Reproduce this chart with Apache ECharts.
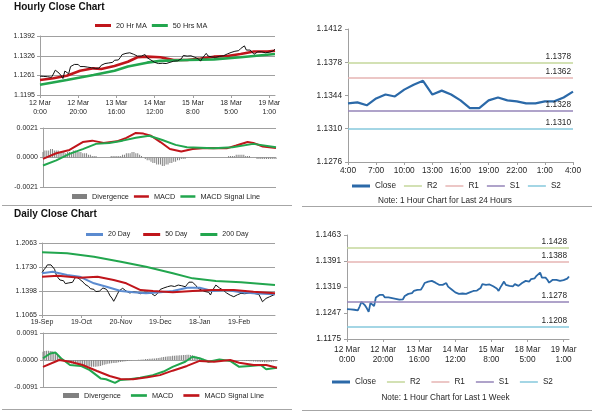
<!DOCTYPE html>
<html><head><meta charset="utf-8">
<script src="https://cdn.jsdelivr.net/npm/echarts@6/dist/echarts.min.js"></script>
<style>html,body{margin:0;padding:0;background:#fff}#c{width:600px;height:413px}</style>
</head><body><div id="c"></div>
<script>
// ---------------- DATA ----------------
const hourlyDays = ['12 Mar','13 Mar','14 Mar','15 Mar','18 Mar','19 Mar'];
const hourlyLastHour = [23,23,23,22,23,4];

const hourlyClose = [
 1.1258,1.1260,1.1257,1.1259,1.1256,1.1252,1.1254,1.1265,1.1278,1.1274,
 1.1268,1.1260,1.1250,1.1275,1.1270,1.1266,1.1290,1.1295,1.1297,1.1294,
 1.1297,1.1290,1.1289,1.1290,1.1289,1.1288,1.1289,1.1286,1.1285,1.1284,
 1.1286,1.1285,1.1294,1.1292,1.1300,1.1305,1.1302,1.1308,1.1304,1.1311,
 1.1306,1.1312,1.1320,1.1330,1.1329,1.1334,1.1338,1.1336,1.1333,1.1331,
 1.1326,1.1325,1.1324,1.1325,1.1322,1.1330,1.1320,1.1316,1.1312,1.1308,
 1.1304,1.1302,1.1300,1.1303,1.1301,1.1302,1.1300,1.1303,1.1304,1.1305,
 1.1308,1.1310,1.1309,1.1312,1.1316,1.1327,1.1324,1.1325,1.1323,1.1326,
 1.1324,1.1321,1.1318,1.1315,1.1308,1.1318,1.1326,1.1334,1.1325,1.1324,
 1.1322,1.1323,1.1321,1.1327,1.1324,1.1322,1.1326,1.1330,1.1332,1.1336,
 1.1337,1.1334,1.1341,1.1345,1.1343,1.1350,1.1355,1.1359,1.1345,1.1349,
 1.1345,1.1339,1.1331,1.1331,1.1339,1.1342,1.1339,1.1338,1.1336,1.1336,
 1.1338,1.1338,1.1342,1.1348];

const hourlyMA20 = [[0,1.1245],[7,1.1251],[14,1.1259],[21,1.1276],[28,1.1284],[32,1.1282],[39,1.1292],[46,1.1306],[51,1.1321],[56,1.1323],[63,1.1321],[70,1.1312],[77,1.1312],[84,1.1317],[91,1.1323],[98,1.1325],[105,1.1332],[112,1.1340],[119,1.1340],[123,1.1343]];
const hourlyMA50 = [[0,1.1229],[14,1.1245],[28,1.1262],[39,1.1276],[46,1.1290],[56,1.1303],[63,1.1309],[77,1.1312],[91,1.1314],[105,1.1321],[123,1.1332]];

const hourlyMACD = [[0,-0.0001],[1,0.0000],[7,0.0003],[14,0.00054],[21,0.0011],[26,0.0012],[32,0.00104],[39,0.00115],[44,0.0014],[49,0.00175],[53,0.0017],[57,0.00155],[62,0.0011],[67,0.0006],[73,0.00043],[79,0.0006],[86,0.00068],[97,0.00065],[102,0.00085],[108,0.0011],[111,0.00104],[116,0.00078],[123,0.00068]];
const hourlySignal = [[0,-0.00057],[7,-0.0002],[14,0.00026],[21,0.0006],[28,0.00097],[35,0.00104],[42,0.0012],[49,0.0014],[56,0.00155],[63,0.00125],[70,0.0009],[76,0.00073],[90,0.00065],[100,0.00073],[111,0.00097],[123,0.00073]];
const hourlyDiv = [
 0.0004,0.0005,0.0005,0.0005,0.0006,0.0006,0.0005,0.0005,0.0005,0.0004,
 0.0004,0.0004,0.0003,0.0004,0.0004,0.0004,0.0005,0.0005,0.0004,0.0004,
 0.0004,0.0003,0.0003,0.0003,0.0002,0.0002,0.0001,0.0001,0.0001,0.0000,
 0.0000,0.0000,0.0000,0.0000,0.0000,0.0000,0.0001,0.0001,0.0001,0.0001,
 0.0001,0.0001,0.0002,0.0002,0.0003,0.0003,0.0003,0.0004,0.0004,0.0003,
 0.0003,0.0002,0.0001,0.0000,-0.0001,-0.0002,-0.0002,-0.0003,-0.0004,-0.0004,
 -0.0005,-0.0005,-0.0005,-0.0006,-0.0006,-0.0005,-0.0005,-0.0004,-0.0004,-0.0003,
 -0.0003,-0.0002,-0.0002,-0.0001,-0.0001,-0.0001,0.0000,0.0000,0.0000,0.0000,
 0.0000,0.0000,0.0000,0.0000,0.0000,0.0000,0.0000,0.0000,0.0000,0.0000,
 0.0000,0.0000,0.0000,0.0000,0.0000,0.0000,0.0000,0.0000,0.0001,0.0001,
 0.0001,0.0001,0.0002,0.0002,0.0002,0.0002,0.0002,0.0001,0.0001,0.0001,
 0.0000,0.0000,0.0000,-0.0001,-0.0001,-0.0001,-0.0001,-0.0001,-0.0001,-0.0001,
 -0.0001,-0.0001,-0.0001,-0.0001];

const dailyTickLabels = ['19-Sep','19-Oct','20-Nov','19-Dec','18-Jan','19-Feb'];
const dailyLabelEvery = 22;
const dailyClose = [
 1.1647,1.1690,1.1720,1.1760,1.1781,1.1760,1.1734,1.1700,1.1619,1.1580,
 1.1550,1.1526,1.1540,1.1500,1.1490,1.1510,1.1530,1.1518,1.1560,1.1596,
 1.1580,1.1560,1.1550,1.1520,1.1490,1.1480,1.1460,1.1430,1.1411,1.1420,
 1.1390,1.1379,1.1395,1.1411,1.1440,1.1457,1.1420,1.1379,1.1330,1.1300,
 1.1255,1.1300,1.1351,1.1400,1.1420,1.1435,1.1410,1.1397,1.1380,1.1370,
 1.1365,1.1385,1.1360,1.1379,1.1370,1.1360,1.1351,1.1380,1.1397,1.1380,
 1.1370,1.1365,1.1350,1.1330,1.1318,1.1380,1.1420,1.1435,1.1440,1.1430,
 1.1457,1.1440,1.1470,1.1480,1.1460,1.1470,1.1480,1.1490,1.1470,1.1450,
 1.1457,1.1490,1.1520,1.1536,1.1520,1.1504,1.1470,1.1435,1.1420,1.1411,
 1.1400,1.1390,1.1411,1.1380,1.1342,1.1400,1.1440,1.1480,1.1457,1.1440,
 1.1420,1.1411,1.1390,1.1370,1.1365,1.1340,1.1330,1.1318,1.1330,1.1345,
 1.1351,1.1365,1.1379,1.1360,1.1370,1.1365,1.1355,1.1370,1.1379,1.1360,
 1.1355,1.1351,1.1300,1.1249,1.1270,1.1295,1.1310,1.1318,1.1330,1.1340,
 1.1351];
const daily20 = [[0,1.1643],[6,1.1665],[14,1.1619],[21,1.1596],[29,1.1504],[36,1.1457],[44,1.1397],[51,1.1379],[58,1.1365],[66,1.1379],[73,1.1397],[81,1.1443],[88,1.1443],[95,1.1397],[103,1.1411],[111,1.1379],[118,1.1365],[130,1.1351]];
const daily50 = [[0,1.1596],[9,1.1610],[21,1.1582],[31,1.1596],[40,1.1550],[47,1.1504],[55,1.1411],[62,1.1397],[73,1.1379],[84,1.1397],[95,1.1411],[107,1.1411],[118,1.1388],[130,1.1365]];
const daily200 = [[0,1.1934],[14,1.1920],[29,1.1873],[44,1.1804],[58,1.1734],[73,1.1643],[84,1.1573],[97,1.1536],[111,1.1518],[130,1.1480]];
const dailyMACD = [[0,0.0006],[4,0.0022],[7,0.0025],[10,0.0006],[15,-0.0017],[21,-0.0020],[26,-0.0034],[32,-0.0062],[35,-0.0065],[40,-0.0077],[43,-0.0067],[48,-0.0065],[54,-0.0060],[61,-0.0051],[67,-0.0039],[72,-0.0023],[79,-0.0006],[83,0.0011],[87,0.0006],[92,-0.0006],[98,0.0002],[104,-0.0003],[109,-0.0023],[115,-0.0020],[121,-0.0017],[124,-0.0031],[130,-0.0026]];
const dailySignal = [[0,-0.0023],[9,0.0000],[15,-0.0006],[22,-0.0017],[30,-0.0037],[37,-0.0054],[43,-0.0064],[50,-0.0065],[58,-0.0058],[65,-0.0051],[72,-0.0036],[80,-0.0020],[87,-0.0003],[95,-0.0006],[104,0.0000],[109,-0.0009],[117,-0.0017],[124,-0.0017],[130,-0.0026]];
const dailyDiv = [
 0.0028,0.0030,0.0031,0.0031,0.0030,0.0030,0.0028,0.0025,0.0020,0.0014,0.0008,0.0003,-0.0002,
 -0.0006,-0.0009,-0.0011,-0.0012,-0.0013,-0.0014,-0.0015,-0.0016,-0.0017,-0.0018,-0.0019,-0.0020,-0.0021,
 -0.0022,-0.0023,-0.0023,-0.0023,-0.0022,-0.0021,-0.0020,-0.0018,-0.0016,-0.0014,-0.0013,-0.0012,-0.0011,
 -0.0010,-0.0010,-0.0009,-0.0008,-0.0007,-0.0006,-0.0005,-0.0004,-0.0003,-0.0002,-0.0001,0,0,
 0,0.0001,0.0001,0.0002,0.0002,0.0003,0.0003,0.0004,0.0004,0.0005,0.0005,0.0006,0.0007,
 0.0008,0.0009,0.0010,0.0011,0.0012,0.0013,0.0013,0.0014,0.0014,0.0015,0.0015,0.0016,0.0016,
 0.0017,0.0017,0.0018,0.0018,0.0017,0.0016,0.0014,0.0012,0.0010,0.0008,0.0006,0.0004,0.0002,
 0.0001,0,0,0,0,0,0,0,0,0,0,0,0,
 0,0,0,0,0,0,-0.0001,-0.0002,-0.0002,-0.0003,-0.0003,-0.0004,-0.0004,
 -0.0005,-0.0005,-0.0006,-0.0006,-0.0007,-0.0007,-0.0008,-0.0008,-0.0008,-0.0007,-0.0006,-0.0005,-0.0004,-0.0003];

const levelNames = ['R2','R1','S1','S2'];
const dayLevels  = [1.1378, 1.1362, 1.1328, 1.1310];
const weekLevels = [1.1428, 1.1388, 1.1278, 1.1208];

const hourlyPriceTicks = [1.1195,1.1261,1.1326,1.1392];
const hourlyMacdTicks  = [-0.0021,0,0.0021];
const dayPriceTicks    = [1.1276,1.1310,1.1344,1.1378,1.1412];
const dailyPriceTicks  = [1.1065,1.1398,1.1730,1.2063];
const dailyMacdTicks   = [-0.0091,0,0.0091];
const weekPriceTicks   = [1.1175,1.1247,1.1319,1.1391,1.1463];

// ---------------- BUILD ----------------
const hourlyCats = [];
hourlyDays.forEach((d,i)=>{ for(let h=0;h<=hourlyLastHour[i];h++) hourlyCats.push(d+'\n'+h+':00'); });
const dayCats = hourlyCats.slice(-25);
const dayClose = hourlyClose.slice(-25);
const dailyCats = dailyClose.map((_,i)=>'d'+i);

const FONT = "'Liberation Sans', Arial, sans-serif";
const TXT = '#262626';
const AXC = '#a0a0a0';
const RED = '#c0151b', GREEN = '#22a64e', BLUE20 = '#5b8bd0', CLOSE = '#2b69a8', GREY = '#808080';
const LVC = ['#c4d79b', '#e6b4b3', '#9585b8', '#86c8dc'];

const chart = echarts.init(document.getElementById('c'), null, {renderer:'canvas'});

const grids = [
  {left:40, top:36, width:235, height:59},
  {left:43, top:128, width:233, height:59},
  {left:348, top:29, width:225, height:133},
  {left:42, top:243, width:233, height:72},
  {left:43, top:333, width:234, height:54},
  {left:347, top:235, width:222, height:104}
];

function yAx(gi, ticks, fs, split, margin){
  return {type:'value', gridIndex:gi, min:ticks[0], max:ticks[ticks.length-1],
    axisLine:{show:true, lineStyle:{color:AXC}},
    axisTick:{show:true, length:3, customValues:ticks, lineStyle:{color:AXC}},
    axisLabel:{customValues:ticks, formatter:v=>v.toFixed(4), fontSize:fs, color:TXT, fontFamily:FONT, margin:margin},
    splitLine:{show:split, lineStyle:{color:AXC, width:1}}};
}
function xAx(gi, cats, o){
  return Object.assign({type:'category', gridIndex:gi, data:cats, boundaryGap:false,
    axisLine:{show:true, onZero:false, lineStyle:{color:AXC}},
    splitLine:{show:false}}, o);
}

const xAxis = [
  xAx(0, hourlyCats, {axisTick:{interval:19, length:3, lineStyle:{color:AXC}},
      axisLabel:{interval:19, fontSize:7, lineHeight:9, color:TXT, fontFamily:FONT, margin:4}}),
  xAx(1, hourlyCats, {axisLine:{show:false}, axisTick:{show:false}, axisLabel:{show:false}}),
  xAx(2, dayCats, {axisTick:{interval:2, length:3, lineStyle:{color:AXC}},
      axisLabel:{interval:2, formatter:v=>v.split('\n')[1], fontSize:8.3, color:TXT, fontFamily:FONT, margin:5}}),
  xAx(3, dailyCats, {axisTick:{interval:dailyLabelEvery-1, length:3, lineStyle:{color:AXC}},
      axisLabel:{interval:dailyLabelEvery-1, formatter:(v,i)=>dailyTickLabels[i/dailyLabelEvery]||'', fontSize:7, color:TXT, fontFamily:FONT, margin:4}}),
  xAx(4, dailyCats, {axisLine:{show:false}, axisTick:{show:false}, axisLabel:{show:false}}),
  xAx(5, hourlyCats, {axisTick:{interval:19, length:3, lineStyle:{color:AXC}},
      axisLabel:{interval:19, fontSize:8.3, lineHeight:9.5, color:TXT, fontFamily:FONT, margin:6}})
];
const yAxis = [
  yAx(0, hourlyPriceTicks, 7, true, 5),
  yAx(1, hourlyMacdTicks, 7, true, 5),
  yAx(2, dayPriceTicks, 8.3, false, 6),
  yAx(3, dailyPriceTicks, 7, true, 5),
  yAx(4, dailyMacdTicks, 7, true, 5),
  yAx(5, weekPriceTicks, 8.3, false, 6)
];

function line(name, gi, data, color, width){
  return {type:'line', name, xAxisIndex:gi, yAxisIndex:gi, data, showSymbol:false, symbol:'none',
    connectNulls:true, color, lineStyle:{color, width}, silent:true, z:3};
}
function bars(name, gi, data){
  return {type:'bar', name, xAxisIndex:gi, yAxisIndex:gi, data, barWidth:1, color:GREY,
    itemStyle:{color:GREY}, silent:true, z:2};
}
function levelKey(name, gi, i){
  return {type:'line', name, xAxisIndex:gi, yAxisIndex:gi, data:[], color:LVC[i], lineStyle:{color:LVC[i]}};
}
function closeWithLevels(name, gi, data, levels, width){
  const s = line(name, gi, data, CLOSE, width);
  s.z = 4;
  s.markLine = {silent:true, symbol:['none','none'], animation:false, precision:4,
    data: levels.map((v,i)=>({yAxis:v, lineStyle:{color:LVC[i], width:1.6, type:'solid'},
      label:{show:true, position:'insideEndTop', distance:2, formatter:v.toFixed(4), fontSize:8.3, color:TXT, fontFamily:FONT}}))};
  return s;
}

const series = [
  line('20 Hr MA', 0, hourlyMA20, RED, 2.6),
  line('50 Hrs MA', 0, hourlyMA50, GREEN, 2.6),
  line('hclose', 0, hourlyClose, '#111', 1),
  bars('Divergence', 1, hourlyDiv),
  line('MACD', 1, hourlyMACD, RED, 2),
  line('MACD Signal Line', 1, hourlySignal, GREEN, 2),
  closeWithLevels('Close', 2, dayClose, dayLevels, 2.2)
].concat(levelNames.map((n,i)=>levelKey(n, 2, i))).concat([
  line('dclose', 3, dailyClose, '#111', 1),
  line('20 Day', 3, daily20, BLUE20, 2),
  line('50 Day', 3, daily50, RED, 2),
  line('200 Day', 3, daily200, GREEN, 2),
  bars('Divergence#d', 4, dailyDiv),
  line('MACD#d', 4, dailyMACD, GREEN, 2),
  line('MACD Signal Line#d', 4, dailySignal, RED, 2),
  closeWithLevels('Close#w', 5, hourlyClose, weekLevels, 1.8)
]).concat(levelNames.map((n,i)=>levelKey(n+'#w', 5, i)));

const thin = 'path://M0,0L12,0L12,1L0,1Z';
const mid = 'path://M0,0L6,0L6,1L0,1Z';
function lg(names, left, top, o){
  return Object.assign({selectedMode:false, left, top, orient:'horizontal', padding:0,
    itemWidth:16, itemHeight:3, itemGap:5, icon:'rect',
    textStyle:{fontSize:7.3, color:TXT, fontFamily:FONT},
    formatter:n=>n.split('#')[0], data:names}, o);
}
const legend = [
  lg(['20 Hr MA','50 Hrs MA'], 95, 22),
  lg([{name:'Divergence', icon:'rect'},{name:'MACD', icon:mid},{name:'MACD Signal Line', icon:mid}], 72, 193, {itemWidth:15, itemHeight:5, itemGap:5}),
  lg([{name:'Close'}].concat(levelNames.map(n=>({name:n, icon:thin}))), 352, 182, {itemWidth:18, itemHeight:3, itemGap:8, textStyle:{fontSize:8.2, color:TXT, fontFamily:FONT}}),
  lg(['20 Day','50 Day','200 Day'], 86, 231, {itemWidth:17, itemGap:13, textStyle:{fontSize:7, color:TXT, fontFamily:FONT}}),
  lg([{name:'Divergence#d', icon:'rect'},{name:'MACD#d', icon:mid},{name:'MACD Signal Line#d', icon:mid}], 63, 392, {itemWidth:16, itemHeight:5, itemGap:10}),
  lg([{name:'Close#w'}].concat(levelNames.map(n=>({name:n+'#w', icon:thin}))), 332, 378, {itemWidth:18, itemHeight:3, itemGap:11, textStyle:{fontSize:8.2, color:TXT, fontFamily:FONT}})
];

const title = [
  {text:'Hourly Close Chart', left:14, top:2, padding:0, textStyle:{fontSize:10, fontWeight:'bold', color:'#111', fontFamily:FONT}},
  {text:'Daily Close Chart', left:14, top:209, padding:0, textStyle:{fontSize:10, fontWeight:'bold', color:'#111', fontFamily:FONT}}
];

const sepC = '#a6a6a6';
const graphic = [
  {type:'line', shape:{x1:2, y1:205.5, x2:292, y2:205.5}, style:{stroke:sepC, lineWidth:1}, silent:true},
  {type:'line', shape:{x1:302, y1:206.5, x2:592, y2:206.5}, style:{stroke:sepC, lineWidth:1}, silent:true},
  {type:'line', shape:{x1:2, y1:409.5, x2:292, y2:409.5}, style:{stroke:sepC, lineWidth:1}, silent:true},
  {type:'line', shape:{x1:302, y1:410.5, x2:592, y2:410.5}, style:{stroke:sepC, lineWidth:1}, silent:true},
  {type:'text', x:445, y:201, silent:true, style:{text:'Note: 1 Hour Chart for Last 24 Hours', fill:TXT, font:'8.2px '+FONT, align:'center', verticalAlign:'middle'}},
  {type:'text', x:445.5, y:397.5, silent:true, style:{text:'Note: 1 Hour Chart for Last 1 Week', fill:TXT, font:'8.2px '+FONT, align:'center', verticalAlign:'middle'}}
];

chart.setOption({animation:false, backgroundColor:'#fff', textStyle:{fontFamily:FONT},
  title, legend, grid:grids, xAxis, yAxis, series, graphic});
</script></body></html>
